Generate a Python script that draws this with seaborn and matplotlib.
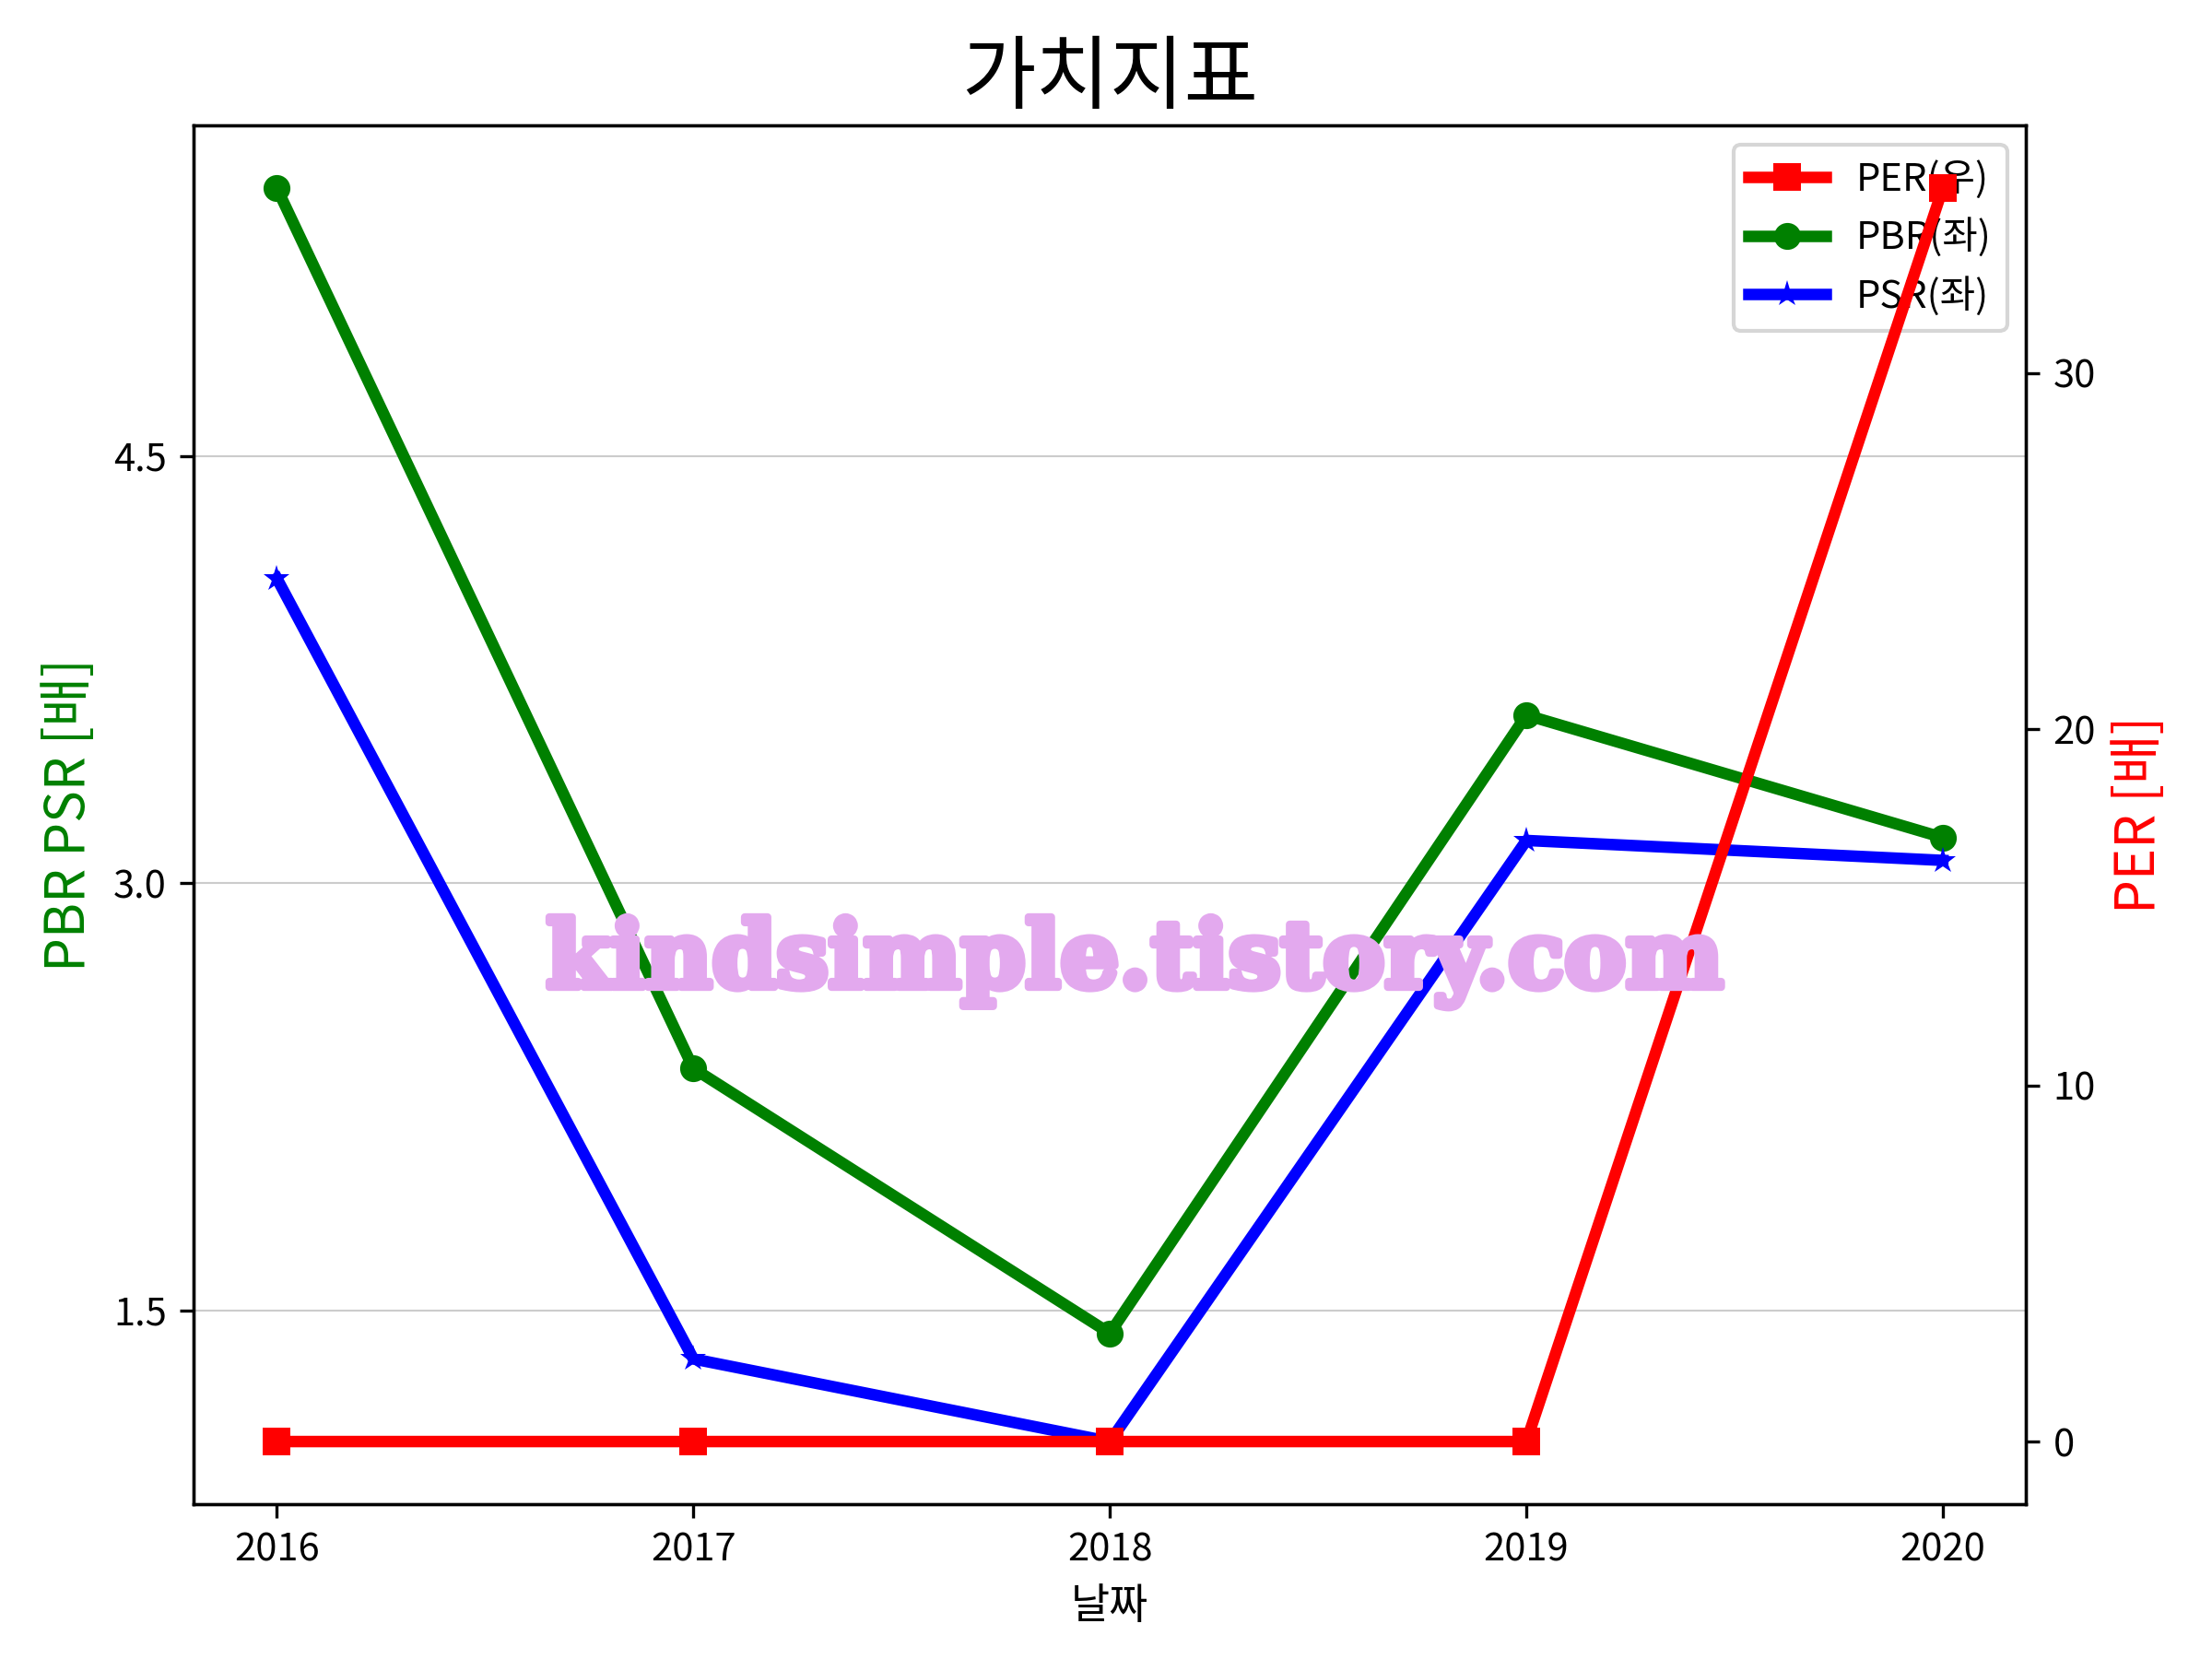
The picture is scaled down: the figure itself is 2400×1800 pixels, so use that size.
import matplotlib
matplotlib.use("Agg")
import matplotlib.pyplot as plt
from matplotlib.ticker import MultipleLocator
import matplotlib.patheffects as pe
import seaborn as sns
import pandas as pd

years = [2016, 2017, 2018, 2019, 2020]
per = [0.0, 0.0, 0.0, 0.0, 35.2]
pbr = [5.44, 2.35, 1.42, 3.59, 3.16]
psr = [4.07, 1.33, 1.04, 3.15, 3.08]
left_ticks = [1.5, 3.0, 4.5]

plt.rcParams['font.family'] = ['Noto Sans CJK KR', 'DejaVu Sans']
plt.rcParams['axes.unicode_minus'] = False

df = pd.DataFrame({'날짜': years, 'PER': per, 'PBR': pbr, 'PSR': psr})

fig, ax1 = plt.subplots(figsize=(8, 6), dpi=300)
fig.subplots_adjust(left=0.0875, right=0.916, top=0.9244, bottom=0.0933)

sns.lineplot(data=df, x='날짜', y='PBR', ax=ax1, color='green', marker='o',
             markersize=7, markeredgewidth=0, linewidth=3, label='PBR(좌)')
sns.lineplot(data=df, x='날짜', y='PSR', ax=ax1, color='blue', marker='*',
             markersize=7, markeredgewidth=0, linewidth=3, label='PSR(좌)')
ax1.set_yticks(left_ticks)
ax1.set_yticklabels([f"{t:.1f}" for t in left_ticks])
ax1.grid(axis='y', color='#cccccc', linewidth=0.5)
ax1.set_axisbelow(True)
ax1.set_xticks(years)
ax1.set_xlabel('날짜', fontsize=11)
ax1.set_ylabel('PBR PSR [배]', color='green', fontsize=14)
ax1.tick_params(labelsize=10)

ax2 = ax1.twinx()
sns.lineplot(data=df, x='날짜', y='PER', ax=ax2, color='red', marker='s',
             markersize=7, markeredgewidth=0, linewidth=3, label='PER(우)')
ax2.yaxis.set_major_locator(MultipleLocator(10))
ax2.set_ylabel('PER [배]', color='red', fontsize=14)
ax2.tick_params(labelsize=10)

h1, l1 = ax1.get_legend_handles_labels()
h2, l2 = ax2.get_legend_handles_labels()
if ax1.get_legend():
    ax1.get_legend().remove()
if ax2.get_legend():
    ax2.get_legend().remove()
ax1.legend(h2 + h1, l2 + l1, loc='upper right', fontsize=10)

ax1.set_title('가치지표', fontsize=21)

fig.text(0.513, 0.42, 'kindsimple.tistory.com', fontsize=24, fontweight='heavy',
         family='DejaVu Serif', color='#E3A9EE', ha='center', va='center', zorder=10,
         path_effects=[pe.withStroke(linewidth=2, foreground='#E3A9EE')])

fig.savefig('out.png', dpi=300)
